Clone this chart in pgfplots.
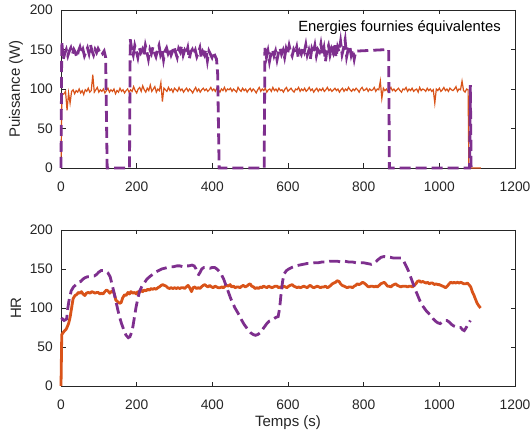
\documentclass[border=0pt]{standalone}
\usepackage{fontspec}
\setmainfont{Liberation Sans}
\usepackage{pgfplots}
\pgfplotsset{compat=1.18}
\definecolor{morange}{RGB}{217,83,25}
\definecolor{mpurple}{RGB}{126,47,142}
\definecolor{maxis}{RGB}{38,38,38}
\pgfplotsset{
  mstyle/.style={
    scale only axis, width=454pt,
    xmin=0, xmax=1200, ymin=0, ymax=200,
    xtick={0,200,...,1200}, ytick={0,50,...,200},
    tick align=inside, major tick length=4.5pt,
    axis line style={maxis, line width=0.6pt},
    every tick/.style={maxis, line width=0.6pt},
    /pgf/number format/assume math mode=true,
    /pgf/number format/1000 sep={},
    scaled ticks=false,
    every tick label/.append style={font=\fontsize{13.8}{16}\selectfont, text=maxis, inner sep=0pt},
    xticklabel style={yshift=-13.7pt},
    yticklabel style={xshift=-8pt},
    label style={font=\fontsize{15}{18}\selectfont, text=maxis},
    ylabel style={at={(axis description cs:-0.0991,0.5)}, anchor=center, rotate=0},
    xlabel style={at={(axis description cs:0.5,-0.237)}, anchor=center},
    clip=false,
  },
  pw/.style={morange, line width=1.2pt},
  pp/.style={mpurple, line width=2.8pt, dash pattern=on 11pt off 5pt},
  hw/.style={morange, line width=2.8pt, line join=round},
  hp/.style={mpurple, line width=2.8pt, dash pattern=on 11pt off 5pt},
}
\begin{document}
\begin{tikzpicture}[x=1pt,y=1pt]
\useasboundingbox[fill=white] (0,0) rectangle (532,-435);
\begin{axis}[mstyle, at={(61pt,-10pt)}, anchor=north west, height=158pt, ylabel={Puissance (W)}]
\addplot[pw] coordinates {
(0,0)(1,40)(2,88)(4,93)
(8,94)(12,97)(16,73)(20,95)(24,82)(28,97)(32,99)(36,94)(40,98)(44,96)
(48,100)(52,95)(56,98)(60,93)(64,99)(68,97)(72,101)(76,96)(80,98)(84,118)
(88,96)(92,99)(96,102)(100,96)(104,99)(108,97)(112,100)(116,95)(120,98)(124,101)
(128,96)(132,99)(136,97)(140,100)(144,94)(148,98)(152,96)(156,101)(160,97)(164,99)
(168,95)(172,98)(176,100)(180,96)(184,99)(188,97)(192,103)(196,98)(200,95)(204,100)
(208,102)(212,97)(216,104)(220,99)(224,96)(228,101)(232,98)(236,105)(240,97)(244,100)
(248,103)(252,96)(256,100)(260,98)(264,108)(268,84)(272,101)(276,99)(280,97)(284,102)
(288,98)(292,100)(296,96)(300,101)(304,99)(308,97)(312,102)(316,98)(320,100)(324,96)
(328,99)(332,101)(336,97)(340,100)(344,98)(348,95)(352,99)(356,102)(360,97)(364,100)
(368,96)(372,99)(376,101)(380,98)(384,100)(388,97)(392,99)(396,102)(400,98)(404,100)
(408,97)(412,101)(416,99)(420,96)(424,100)(428,98)(432,102)(436,97)(440,100)(444,99)
(448,101)(452,97)(456,100)(460,98)(464,96)(468,102)(472,99)(476,97)(480,101)(484,98)
(488,100)(492,96)(496,99)(500,101)(504,97)(508,100)(512,98)(516,95)(520,99)(524,102)
(528,97)(532,100)(536,98)(540,101)(544,96)(548,99)(552,100)(556,97)(560,102)(564,98)
(568,100)(572,97)(576,101)(580,98)(584,99)(588,96)(592,100)(596,102)(600,97)(604,99)
(608,101)(612,98)(616,96)(620,100)(624,99)(628,102)(632,97)(636,100)(640,98)(644,101)
(648,97)(652,99)(656,102)(660,98)(664,100)(668,96)(672,99)(676,101)(680,97)(684,100)
(688,98)(692,101)(696,97)(700,99)(704,102)(708,98)(712,100)(716,97)(720,99)(724,101)
(728,98)(732,100)(736,96)(740,99)(744,101)(748,97)(752,100)(756,98)(760,102)(764,99)
(768,97)(772,100)(776,98)(780,101)(784,99)(788,96)(792,100)(796,102)(800,98)(804,99)
(808,101)(812,97)(816,100)(820,98)(824,99)(828,102)(832,97)(836,100)(840,99)(844,110)
(848,88)(852,101)(856,98)(860,100)(864,97)(868,99)(872,102)(876,98)(880,100)(884,97)
(888,99)(892,101)(896,98)(900,96)(904,100)(908,99)(912,102)(916,97)(920,100)(924,98)
(928,101)(932,97)(936,99)(940,100)(944,96)(948,102)(952,98)(956,100)(960,99)(964,97)
(968,101)(972,98)(976,100)(980,97)(984,99)(988,82)(992,100)(996,98)(1000,101)(1004,97)
(1008,99)(1012,102)(1016,98)(1020,100)(1024,97)(1028,101)(1032,99)(1036,98)(1040,100)(1044,103)
(1048,97)(1052,100)(1056,99)(1060,110)(1064,98)(1068,96)(1072,100)(1076,99)
(1078,0)(1110,0)
};
\addplot[pp] coordinates {
(0,0)(2,160)(6,138)(10,145)(14,150)(18,142)(22,148)(26,152)(30,144)(34,150)(38,146)
(42,140)(46,148)(50,153)(54,145)(58,150)(62,142)(66,147)(70,152)(74,145)(78,156)
(82,148)(86,143)(90,150)(94,146)(98,151)(102,147)(106,149)(110,145)(114,148)(118,140)
(122,0)(181,0)
(183,163)(187,150)(191,143)(195,155)(199,148)(203,140)(207,152)(211,146)(215,150)(219,142)
(223,155)(227,147)(231,138)(235,150)(239,145)(243,153)(247,146)(251,141)(255,149)(259,155)
(263,144)(267,150)(271,137)(275,148)(279,152)(283,145)(287,150)(291,143)(295,148)(299,154)
(303,146)(307,140)(311,151)(315,147)(319,155)(323,143)(327,149)(331,145)(335,152)(339,138)
(343,147)(347,150)(351,144)(355,149)(359,141)(363,146)(367,152)(371,139)(375,147)(379,143)
(383,150)(387,136)(391,148)(395,144)(399,140)(403,147)(407,142)(411,138)(414,120)
(418,0)(537,0)
(539,152)(543,140)(547,148)(551,135)(555,145)(559,150)(563,142)(567,148)(571,137)(575,146)
(579,152)(583,144)(587,149)(591,140)(595,151)(599,145)(603,155)(607,147)(611,142)(615,150)
(619,146)(623,153)(627,140)(631,148)(635,144)(639,152)(643,147)(647,156)(651,143)(655,149)
(659,138)(663,151)(667,146)(671,155)(675,142)(679,150)(683,147)(687,157)(691,144)(695,152)
(699,135)(703,149)(707,155)(711,143)(715,151)(719,146)(723,158)(727,140)(731,153)(735,147)
(739,160)(743,144)(747,152)(751,162)(755,141)(759,150)(763,155)(767,143)(771,150)(775,138)
(779,148)(781,148)(866,150)
(868,0)(1080,0)(1082,105)(1084,0)
};
\node[anchor=base east, inner sep=0pt, font=\fontsize{14.8}{17}\selectfont, text=black] at (rel axis cs:0.969,0.863) {Energies fournies équivalentes};
\end{axis}
\begin{axis}[mstyle, at={(61pt,-230pt)}, anchor=north west, height=156pt, ylabel={HR}, xlabel={Temps (s)}]
\addplot[hw] coordinates {
(0,0)(2,66)(8,70)(14,73)(20,80)(24,88)(28,100)(32,112)(37,116)(41,117)(46,120)(50,119)(54,121)(58,118)(63,116)(67,119)(72,120)(77,119)(81,121)(86,120)(90,119)(95,120)(98,120)(103,118)(107,119)(111,118)(116,121)(120,123)(124,122)(129,119)(133,121)(137,122)(141,118)(145,110)(150,108)(155,106)(159,107)(163,113)(168,117)(172,116)(177,120)(181,118)(185,121)(190,119)(194,120)(199,118)(203,121)(208,120)(212,123)(216,121)(220,123)(225,122)(229,124)(234,123)(238,125)(242,124)(247,125)(251,124)(256,126)(260,127)(265,129)(269,130)(273,129)(278,128)(282,126)(287,125)(291,126)(296,125)(300,126)(305,125)(309,126)(314,125)(318,126)(323,126)(327,125)(331,127)(336,129)(340,126)(345,121)(349,126)(354,127)(358,125)(363,126)(367,125)(371,127)(376,129)(380,130)(385,128)(389,127)(393,129)(398,127)(402,126)(407,128)(411,127)(416,126)(420,126)(425,127)(429,126)(434,128)(438,129)(442,128)(447,130)(451,127)(456,128)(460,126)(465,127)(469,127)(473,126)(478,128)(482,129)(487,127)(491,128)(496,130)(500,131)(504,128)(509,127)(513,125)(518,126)(522,125)(527,127)(531,126)(535,128)(540,127)(544,126)(549,128)(553,127)(558,126)(562,127)(566,128)(571,128)(575,126)(580,127)(584,126)(589,128)(593,127)(597,126)(602,128)(606,129)(611,130)(615,128)(620,127)(624,126)(628,127)(633,126)(637,127)(642,128)(646,127)(651,126)(655,128)(659,129)(664,127)(668,126)(673,127)(677,128)(682,127)(686,126)(690,127)(695,127)(699,128)(704,126)(708,127)(713,129)(717,131)(721,132)(726,133)(730,135)(735,134)(739,131)(743,129)(748,128)(752,127)(757,126)(761,127)(766,127)(770,126)(775,128)(779,129)(783,131)(788,130)(792,131)(797,133)(801,132)(806,130)(810,128)(814,127)(819,128)(823,128)(828,127)(832,128)(836,127)(841,129)(845,131)(850,132)(854,133)(858,131)(863,128)(867,128)(872,127)(876,129)(880,130)(885,131)(889,129)(894,128)(898,127)(903,128)(907,128)(911,128)(916,127)(920,128)(925,128)(929,127)(934,129)(938,131)(942,134)(947,135)(951,133)(956,134)(960,133)(965,132)(969,133)(973,131)(978,132)(982,132)(987,130)(991,131)(996,130)(1000,130)(1004,129)(1009,128)(1013,127)(1017,126)(1021,128)(1026,131)(1030,133)(1035,132)(1039,133)(1043,132)(1048,133)(1052,132)(1057,133)(1061,132)(1065,131)(1070,131)(1074,132)(1078,130)(1083,127)(1087,121)(1091,117)(1095,112)(1100,106)(1104,103)(1109,100)
};
\addplot[hp] coordinates {
(0,85)(4,86)(8,84)(12,85)(15,86)(18,100)(22,112)(27,122)(33,127)(40,130)(46,133)(52,134)(58,137)(64,139)(70,140)(76,140)(82,141)(88,141)(94,143)(100,146)(106,148)(112,148)(118,147)(124,145)(130,140)(135,130)(140,120)(145,109)(150,98)(155,88)(160,80)(166,72)(172,65)(178,62)(182,63)(186,68)(190,76)(194,88)(198,100)(203,112)(208,122)(214,128)(220,132)(227,137)(234,140)(242,143)(250,146)(258,148)(266,150)(274,151)(282,152)(290,153)(298,153)(306,154)(314,154)(322,153)(330,154)(338,154)(346,155)(352,154)(357,150)(360,144)(364,143)(368,146)(372,150)(378,152)(386,152)(394,151)(400,152)(406,152)(412,150)(418,147)(424,143)(430,137)(436,129)(442,121)(448,113)(454,106)(460,100)(466,95)(472,90)(478,84)(484,79)(490,75)(496,71)(502,68)(508,66)(514,65)(520,66)(526,68)(532,72)(538,76)(544,80)(550,83)(556,84)(562,86)(568,88)(574,89)(578,100)(582,120)(586,135)(590,144)(596,148)(602,150)(610,152)(620,154)(630,155)(640,156)(650,157)(660,157)(670,158)(680,158)(690,159)(700,159)(710,160)(720,160)(730,160)(740,159)(750,160)(760,159)(770,159)(780,158)(790,158)(800,158)(810,157)(820,156)(830,158)(838,162)(846,165)(854,166)(862,165)(870,165)(880,164)(890,164)(900,164)(906,160)(912,154)(918,148)(924,140)(930,132)(936,124)(942,117)(948,110)(954,104)(960,100)(966,96)(972,93)(978,90)(984,86)(990,83)(996,81)(1002,80)(1008,82)(1014,84)(1020,84)(1026,82)(1032,79)(1038,77)(1044,76)(1050,75)(1056,75)(1062,72)(1066,71)(1070,74)(1076,79)(1082,84)
};
\end{axis}
\end{tikzpicture}
\end{document}
